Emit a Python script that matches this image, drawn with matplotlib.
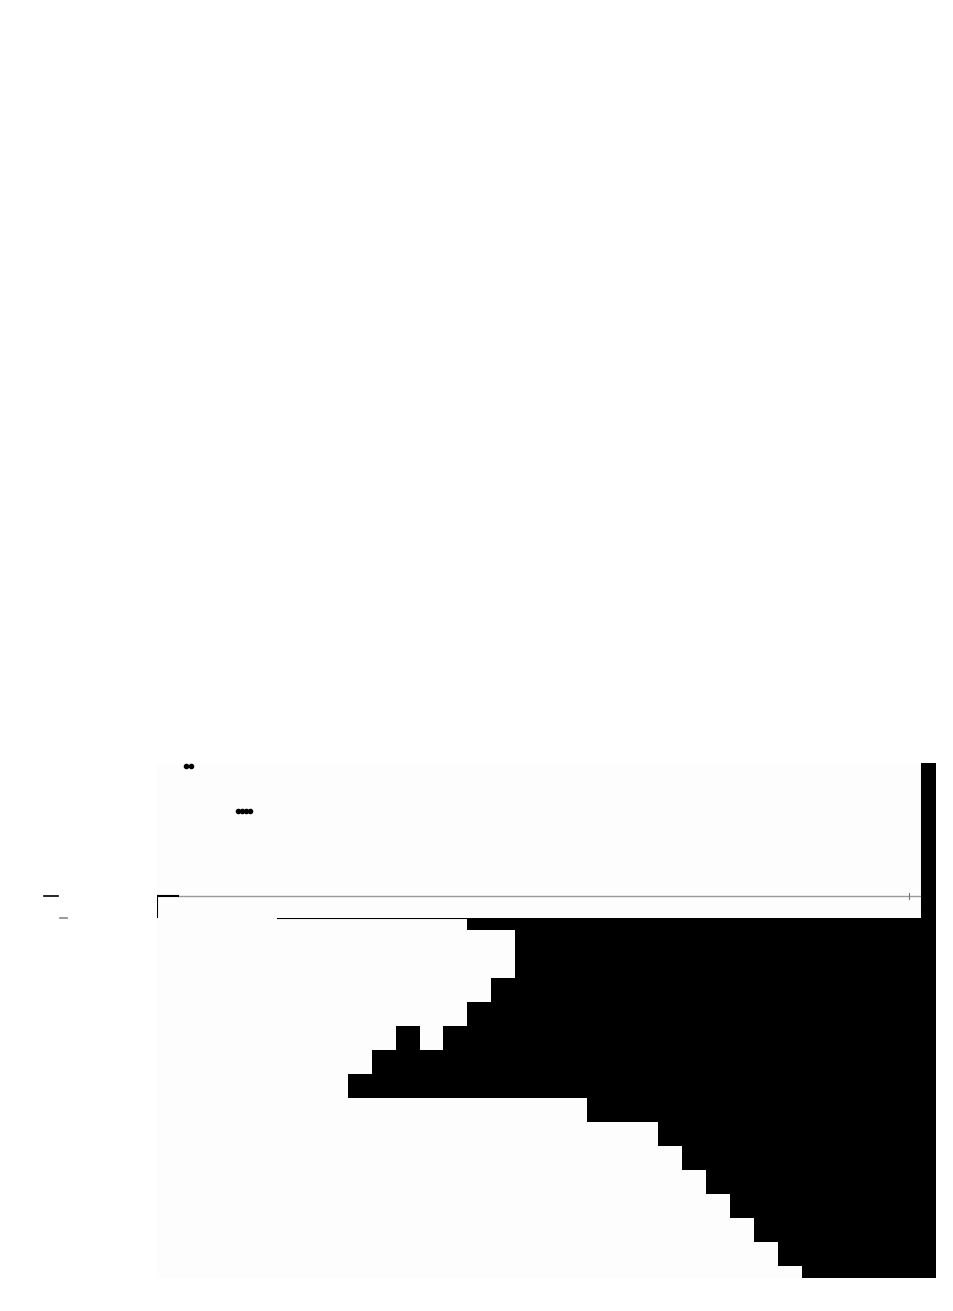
import numpy as np
import matplotlib
matplotlib.use("Agg")
import matplotlib.pyplot as plt
from matplotlib.colors import ListedColormap
from matplotlib.lines import Line2D

# ---- data ----
n_cols = 32
# first dark column in each row (top to bottom)
row_first_dark = [13, 15, 15, 14, 13, 10, 9, 8, 18, 21, 22, 23, 24, 25, 26, 27]
# light cells inside the dark run: (row, col)
light_holes = [(5, 11)]
# dots in the upper panel
dot_x = [1.21, 1.42, 3.39, 3.56, 3.73, 3.90]
dot_y = [0.98, 0.98, 0.69, 0.69, 0.69, 0.69]
baseline_y = 0.142

W, H = 954, 1311
fig = plt.figure(figsize=(W / 100, H / 100), dpi=100)
fig.patch.set_facecolor("white")

def px_axes(x0, y0, x1, y1):
    return fig.add_axes([x0 / W, (H - y1) / H, (x1 - x0) / W, (y1 - y0) / H])

# matrix
mat = np.zeros((len(row_first_dark), n_cols))
for r, c0 in enumerate(row_first_dark):
    mat[r, c0:] = 1
for r, c in light_holes:
    mat[r, c] = 0

# heatmap panel
ax = px_axes(157, 918, 921, 1278)
ax.imshow(mat, cmap=ListedColormap(["#fdfdfd", "black"]), aspect="auto",
          interpolation="nearest", extent=(0, n_cols, len(mat) - 0.5, -0.5))
ax.set_xlim(0, n_cols)
ax.set_ylim(len(mat) - 1, 0)
ax.plot([5.07, 13.0], [0, 0], color="black", lw=1.5, clip_on=False)
for s in ax.spines.values():
    s.set_visible(False)
ax.set_xticks([])
ax.set_yticks([])

# upper panel
ax2 = px_axes(157, 763, 921, 918)
ax2.set_facecolor("#fdfdfd")
ax2.set_xlim(0, n_cols)
ax2.set_ylim(0, 1)
ax2.scatter(dot_x, dot_y, s=9, color="black", zorder=3, clip_on=False)
ax2.plot([0.88, n_cols], [baseline_y, baseline_y], color="#999999", lw=1)
ax2.plot([0, 0.88], [baseline_y, baseline_y], color="black", lw=1.5)
ax2.plot([0, 0], [0, baseline_y], color="black", lw=1.5)
ax2.plot([31.5, 31.5], [baseline_y - 0.02, baseline_y + 0.02], color="#777777", lw=0.8)
for s in ax2.spines.values():
    s.set_visible(False)
ax2.spines["right"].set_visible(True)
ax2.spines["right"].set_color("#999999")
ax2.set_xticks([])
ax2.set_yticks([])

# dark strip on the right
ax3 = px_axes(921, 763, 936, 1278)
ax3.set_facecolor("black")
for s in ax3.spines.values():
    s.set_visible(False)
ax3.set_xticks([])
ax3.set_yticks([])

# small marks on the left
fig.add_artist(Line2D([44 / W, 58 / W], [(H - 896) / H] * 2, color="black", lw=1.2))
fig.add_artist(Line2D([60 / W, 67 / W], [(H - 918) / H] * 2, color="#888888", lw=1.2))

fig.savefig("out.png", dpi=100, facecolor="white")
